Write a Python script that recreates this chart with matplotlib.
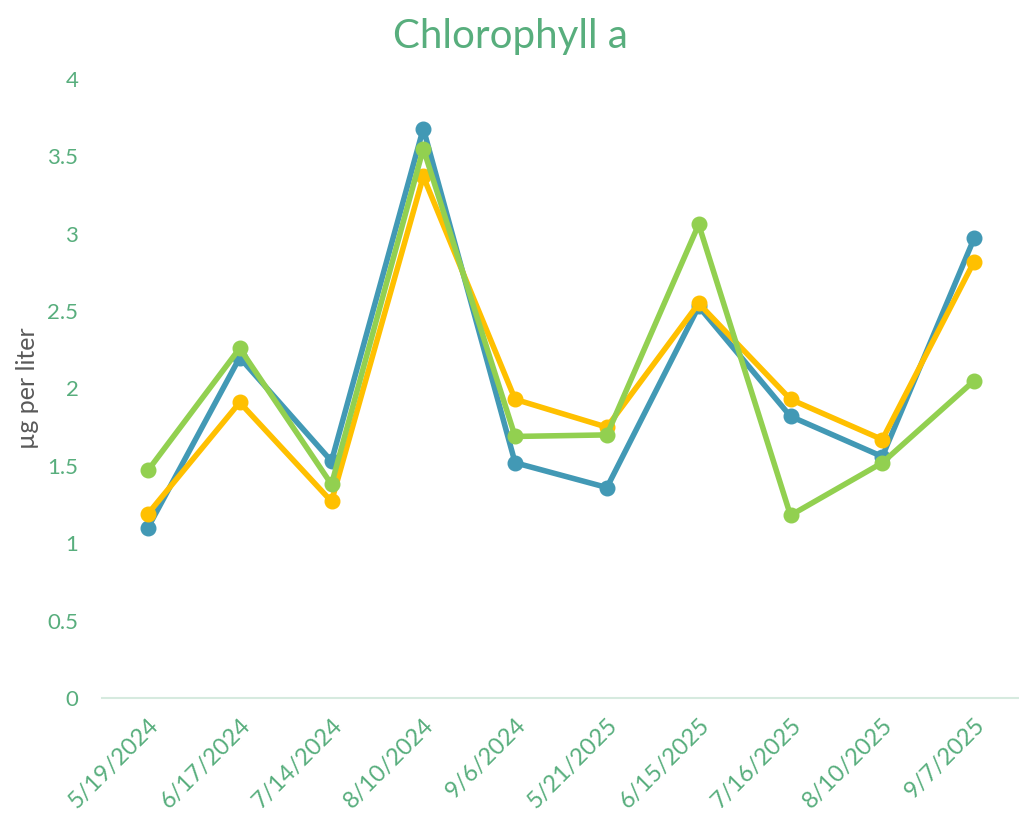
import matplotlib
matplotlib.use('Agg')
import matplotlib.pyplot as plt

# sampling dates (categorical axis)
dates = ['5/19/2024', '6/17/2024', '7/14/2024', '8/10/2024', '9/6/2024',
         '5/21/2025', '6/15/2025', '7/16/2025', '8/10/2025', '9/7/2025']

# chlorophyll a per site, ug/L
site_blue = [1.10, 2.20, 1.53, 3.68, 1.52, 1.36, 2.53, 1.82, 1.56, 2.97]
site_orange = [1.19, 1.91, 1.27, 3.37, 1.93, 1.75, 2.55, 1.93, 1.67, 2.82]
site_green = [1.47, 2.26, 1.38, 3.55, 1.69, 1.70, 3.06, 1.18, 1.52, 2.05]

yticks = [0, 0.5, 1, 1.5, 2, 2.5, 3, 3.5, 4]
ytick_labels = ['0', '0.5', '1', '1.5', '2', '2.5', '3', '3.5', '4']

TEXT_GREEN = '#58AE7D'
plt.rcParams['font.family'] = ['Lato', 'DejaVu Sans']

fig = plt.figure(figsize=(10.2, 8.17), dpi=100)
ax = fig.add_axes([0.1, 0.1457, 0.9, 0.7576])

x = list(range(len(dates)))
for vals, color in [(site_blue, '#4299B5'), (site_orange, '#FFC000'), (site_green, '#92D050')]:
    ax.plot(x, vals, color=color, linewidth=4, marker='o', markersize=10.5,
            solid_capstyle='round', solid_joinstyle='round')

ax.set_xlim(-0.5, len(dates) - 0.5)
ax.set_ylim(0, 4)
ax.set_yticks(yticks)
ax.set_yticklabels(ytick_labels)
ax.set_xticks(x)
ax.set_xticklabels(dates, rotation=45, ha='right', rotation_mode='anchor')

for side in ['top', 'right', 'left']:
    ax.spines[side].set_visible(False)
ax.spines['bottom'].set_color('#D6EADF')
ax.spines['bottom'].set_linewidth(1.5)

ax.tick_params(axis='y', length=0, labelsize=16, colors=TEXT_GREEN, pad=17)
ax.tick_params(axis='x', length=0, labelsize=17, colors=TEXT_GREEN, pad=12)

ax.set_ylabel('µg per liter', fontsize=18, color='#595959', labelpad=6)
fig.text(0.5, 0.978, 'Chlorophyll a', ha='center', va='top', fontsize=29,
         color=TEXT_GREEN)

fig.savefig('out.png', dpi=100)
